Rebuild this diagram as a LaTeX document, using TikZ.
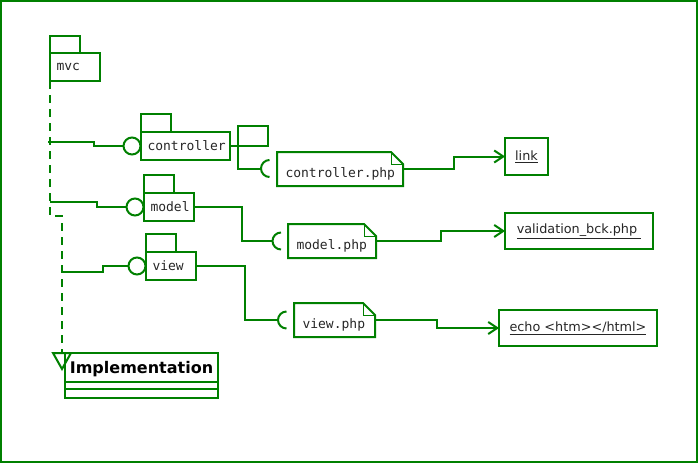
\documentclass[tikz,border=0pt]{standalone}
\usepackage{fontspec}
\setsansfont{DejaVu Sans}
\setmonofont{DejaVu Sans Mono}
\usetikzlibrary{arrows.meta}
\definecolor{umlgreen}{RGB}{0,128,0}
\tikzset{
  umlline/.style={draw=umlgreen, line width=2pt},
  pkg/.style={umlline, anchor=north west, outer sep=0pt, minimum height=28pt,
    inner xsep=6.5pt, inner ysep=0pt, align=left, text=black!85,
    font=\ttfamily\fontsize{13}{15}\selectfont},
  note/.style={anchor=north west, outer sep=0pt, minimum height=34pt,
    inner xsep=8.5pt, inner ysep=0pt, text height=18pt, text depth=2pt,
    align=left, text=black!85, font=\ttfamily\fontsize{13}{15}\selectfont},
  obj/.style={umlline, anchor=north west, outer sep=0pt, inner sep=0pt,
    text=black!85, font=\sffamily\fontsize{12.8}{15}\selectfont},
  ball/.style={umlline, circle, minimum size=17pt, inner sep=0pt, outer sep=0pt},
  dep/.style={umlline, -{Straight Barb[length=9pt, width=12pt]}},
}
% contorno da nota com canto dobrado
\newcommand{\notefold}[1]{%
  \draw[umlline] (#1.north west) -- ([xshift=-12pt]#1.north east)
    -- ([yshift=-12pt]#1.north east) -- (#1.south east) -- (#1.south west) -- cycle;
  \draw[draw=umlgreen, line width=1pt] ([xshift=-12pt]#1.north east)
    |- ([yshift=-12pt]#1.north east);}
% soquete (meia lua) a partir do ponto mais a esquerda
\newcommand{\socket}[1]{%
  \draw[umlline] (#1) ++(8.5,-8.5) arc[start angle=90, end angle=270, radius=8.5pt];}

\begin{document}
\begin{tikzpicture}[x=1pt, y=-1pt]
    \useasboundingbox (0,0) rectangle (698,463);
    % Moldura
    \draw[umlline, line width=1.5pt] (1,1) rectangle (697,462);
    % Pacotes
    \node[pkg, minimum width=50pt, text width=37pt] (mvc) at (50,53) {mvc};
    \draw[umlline] (mvc.north west) rectangle ++(30,-17);
    \node[pkg, minimum width=89pt, text width=76pt] (ctrl) at (141,132) {controller};
    \draw[umlline] (ctrl.north west) rectangle ++(30,-18);
    \node[pkg, minimum width=50pt, text width=37pt] (mdl) at (144,193) {model};
    \draw[umlline] (mdl.north west) rectangle ++(30,-18);
    \node[pkg, minimum width=50pt, text width=37pt] (vw) at (146,252) {view};
    \draw[umlline] (vw.north west) rectangle ++(30,-18);
    \node[umlline, anchor=north west, outer sep=0pt, minimum width=30pt,
      minimum height=20pt] (ctab) at (238,126) {};
    % Interfaces (bolas)
    \node[ball] (cball) at (132,146) {};
    \node[ball] (mball) at (135,207) {};
    \node[ball] (vball) at (137,266) {};
    % Notas
    \node[note, text width=109pt] (cphp) at (277,152) {controller.php};
    \notefold{cphp}
    \node[note, text width=71pt] (mphp) at (288,224) {model.php};
    \notefold{mphp}
    \node[note, text width=64pt] (vphp) at (294,303) {view.php};
    \notefold{vphp}
    % Soquetes
    \coordinate (csock) at (261,168.5);
    \coordinate (msock) at (272.5,241);
    \coordinate (vsock) at (278,320);
    \socket{csock}
    \socket{msock}
    \socket{vsock}
    % Objetos
    \node[obj, minimum width=43pt, minimum height=37pt] (link) at (505,138) {\underline{link}};
    \node[obj, minimum width=148pt, minimum height=36pt] (valid) at (505,213) {\underline{validation\_bck.php\ }};
    \node[obj, minimum width=158pt, minimum height=36pt] (echo) at (499,310) {\underline{echo <htm></html>}};
    % Classe Implementation
    \node[umlline, anchor=north west, outer sep=0pt, minimum width=153pt,
      minimum height=29pt, inner sep=0pt, text height=15pt, text=black,
      font=\sffamily\bfseries\fontsize{16}{19}\selectfont] (impl) at (65,353) {Implementation};
    \draw[umlline] (impl.south west) rectangle ([yshift=-7pt]impl.south east);
    \draw[umlline] ([yshift=-7pt]impl.south west) rectangle ([yshift=-16pt]impl.south east);
    % Realizacao (tracejada) com ponta triangular aberta
    \coordinate (bend1) at (50,216);
    \coordinate (bend2) at (62,216);
    \coordinate (impltop) at (62,353);
    \draw[umlline, dash pattern=on 8pt off 6pt]
      (mvc.south west) -- (bend1) -- (bend2) -- (impltop);
    \draw[umlline, line join=miter] ([xshift=-9pt]impltop) -- ([xshift=9pt]impltop)
      -- ([yshift=-16pt]impltop) -- cycle;
    % Ligacoes das interfaces
    \coordinate (cjoin) at (48,142);
    \coordinate (mjoin) at (50,202);
    \coordinate (vjoin) at (61,272);
    \draw[umlline] (cjoin) -- ++(46,0) |- (cball.west);
    \draw[umlline] (mjoin) -- ++(47,0) |- (mball.west);
    \draw[umlline] (vjoin) -- ++(42,0) |- (vball.west);
    \draw[umlline] (ctrl.east) -- ++(8,0) |- (csock);
    \draw[umlline] (mdl.east) -- ++(48,0) |- (msock);
    \draw[umlline] (vw.east) -- ++(49,0) |- (vsock);
    % Dependencias
    \draw[dep] (cphp.east) -- ++(51,0) |- (link.west);
    \draw[dep] (mphp.east) -- ++(65,0) |- (valid.west);
    \draw[dep] (vphp.east) -- ++(62,0) |- (echo.west);
\end{tikzpicture}
\end{document}
